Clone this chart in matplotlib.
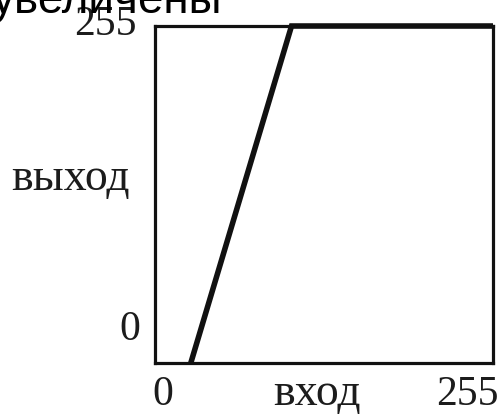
import matplotlib
matplotlib.use("Agg")
import matplotlib.pyplot as plt

# Transfer curve: input level -> output level
curve_in = [27, 103, 255]
curve_out = [0, 255, 255]

x_tick_labels = ["0", "255"]
y_tick_labels = ["0", "255"]
x_label = "вход"
y_label = "выход"
title = "увеличены"

W, H = 504, 415
fig = plt.figure(figsize=(W / 100, H / 100), dpi=100)
fig.patch.set_facecolor("white")

# axes box in pixel terms
left, right, top, bottom = 155, 493, 26, 363
ax = fig.add_axes([left / W, (H - bottom) / H, (right - left) / W, (bottom - top) / H])
ax.set_xlim(0, 255)
ax.set_ylim(0, 255)
ax.set_xticks([])
ax.set_yticks([])
for sp in ax.spines.values():
    sp.set_linewidth(2.3)
    sp.set_color("#111111")

ax.plot(curve_in, curve_out, color="#111111", lw=4.0, clip_on=False,
        solid_joinstyle="miter", solid_capstyle="butt")

serif = dict(family=["Liberation Serif", "DejaVu Serif"], color="#1c1c1c")
fs_num = 30
fs_word = 33

def axfrac(px, py):
    return (px - left) / (right - left), (bottom - py) / (bottom - top)

# bottom row
ax.text(*axfrac(163, 405), x_tick_labels[0], ha="center", va="baseline",
        fontsize=fs_num, transform=ax.transAxes, **serif)
ax.text(*axfrac(317, 405), x_label, ha="center", va="baseline",
        fontsize=fs_word, transform=ax.transAxes, **serif)
ax.text(*axfrac(467, 405), x_tick_labels[1], ha="center", va="baseline",
        fontsize=fs_num, transform=ax.transAxes, **serif)

# left column
ax.text(*axfrac(130, 340), y_tick_labels[0], ha="center", va="baseline",
        fontsize=fs_num, transform=ax.transAxes, **serif)
ax.text(*axfrac(71, 190), y_label, ha="center", va="baseline",
        fontsize=fs_word, transform=ax.transAxes, **serif)
ax.text(*axfrac(105, 35), y_tick_labels[1], ha="center", va="baseline",
        fontsize=fs_num, transform=ax.transAxes, **serif)

fig.text(222 / W, 1 - 13 / H, title, ha="right", va="baseline",
         fontsize=33, family=["Liberation Sans", "DejaVu Sans"], color="#000000")

fig.savefig("out.png", dpi=100, facecolor="white")
